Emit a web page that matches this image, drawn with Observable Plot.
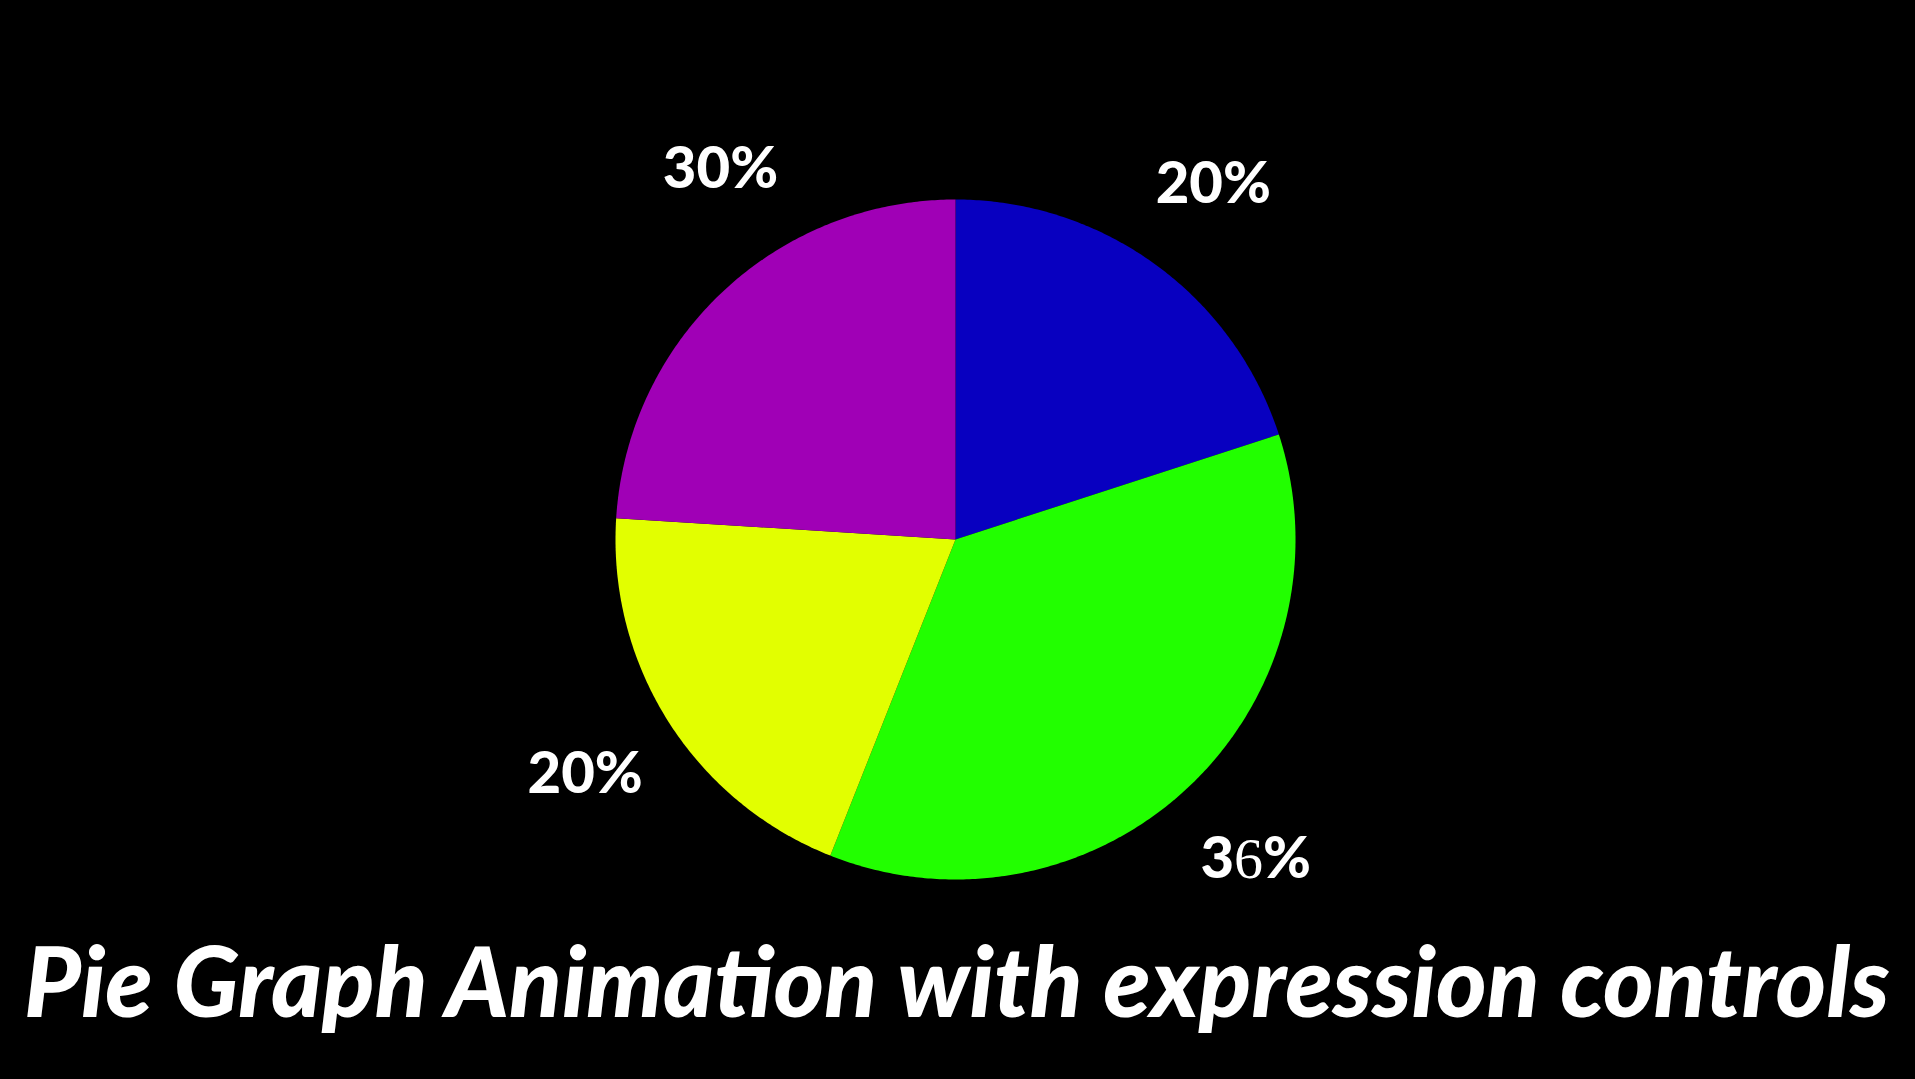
<!DOCTYPE html>
<html>
<head>
<meta charset="utf-8">
<script src="https://cdn.jsdelivr.net/npm/d3@7"></script>
<script src="https://cdn.jsdelivr.net/npm/@observablehq/plot@0.6"></script>
<style>
  html, body { margin: 0; padding: 0; background: #000; width: 1915px; height: 1079px; overflow: hidden; }
  #chart { position: absolute; left: 0; top: 0; }
  #title {
    position: absolute; left: 0; top: 948px; white-space: nowrap;
    font-family: "Lato", "Open Sans", sans-serif; font-weight: 900; font-style: italic;
    color: #fff; line-height: 1; font-size: 77px;
  }
</style>
</head>
<body>
<div id="chart"></div>
<div id="title">Pie Graph Animation with expression controls</div>
<script>
// ---- data ----
const categories = ["Blue", "Green", "Yellow", "Purple"];
const values = [20, 36, 20, 24];          // slice sizes as drawn (percent of the circle)
const labelValues = [20, 36, 20, 30];     // percentages printed on the labels
const colors = ["#0800c0", "#22ff00", "#e2ff00", "#a000b6"];

// ---- layout ----
const W = 1915, H = 945;
const cx = 955, cy = 539, R = 340;
const labelR = 1.29;

const table = categories.map((c, i) => ({category: c, value: values[i], labelValue: labelValues[i], color: colors[i]}));
const arcs = d3.pie().sort(null).value(d => d.value)(table);

// polygon outlines of each slice in unit coordinates (y pointing down)
const slicePoints = arcs.map(a => {
  const pts = [{x: 0, y: 0}];
  const n = Math.max(2, Math.ceil((a.endAngle - a.startAngle) / (Math.PI / 360)));
  for (let k = 0; k <= n; k++) {
    const t = a.startAngle + (a.endAngle - a.startAngle) * k / n;
    pts.push({x: Math.sin(t), y: -Math.cos(t)});
  }
  pts.push({x: 0, y: 0});
  return pts;
});

// labels are placed by the printed percentages (of a full 100% circle)
let acc = 0;
const labelPoints = table.map(d => {
  const m = (acc + d.labelValue / 2) / 100 * 2 * Math.PI;
  acc += d.labelValue;
  return {x: labelR * Math.sin(m), y: -labelR * Math.cos(m), label: d.labelValue + "%"};
});

const chart = Plot.plot({
  width: W,
  height: H,
  margin: 0,
  style: {background: "#000", color: "#fff", overflow: "visible"},
  x: {domain: [-cx / R, (W - cx) / R], range: [0, W], axis: null},
  y: {domain: [-cy / R, (H - cy) / R], range: [0, H], axis: null},
  marks: [
    ...slicePoints.map((pts, i) => Plot.line(pts, {x: "x", y: "y", fill: colors[i], stroke: "none", curve: "linear"})),
    Plot.text(labelPoints, {
      x: "x", y: "y", text: "label",
      fill: "#fff", fontSize: 58, fontWeight: 900,
      fontFamily: "Lato, 'Open Sans', sans-serif",
      textAnchor: "middle", lineAnchor: "middle"
    })
  ]
});
document.getElementById("chart").appendChild(chart);

// the "6" of 36% is set in a thin serif face in the reference
chart.querySelectorAll("text").forEach(t => {
  if (t.textContent === "36%") {
    const ns = "http://www.w3.org/2000/svg";
    t.textContent = "";
    [["3", null], ["6", "serif"], ["%", null]].forEach(([s, f]) => {
      const sp = document.createElementNS(ns, "tspan");
      sp.textContent = s;
      if (f) { sp.setAttribute("font-family", "'Liberation Serif', serif"); sp.setAttribute("font-weight", "400"); }
      t.appendChild(sp);
    });
  }
});

// fit title width to the reference span
const title = document.getElementById("title");
const targetLeft = 24, targetWidth = 1866;
const w0 = title.getBoundingClientRect().width;
const fs = 77 * targetWidth / w0;
title.style.fontSize = fs + "px";
title.style.left = targetLeft + "px";
title.style.top = (1018 - 0.887 * fs) + "px";
</script>
</body>
</html>
